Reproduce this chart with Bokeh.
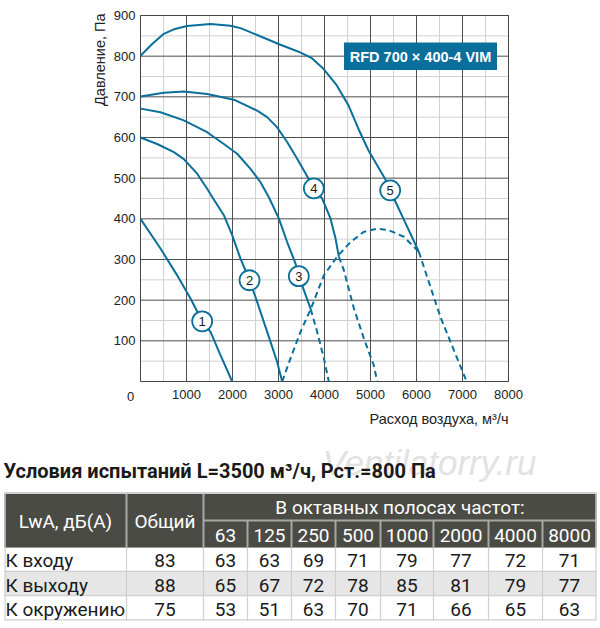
from bokeh.plotting import figure
from bokeh.models import Range1d, FixedTicker, ColumnDataSource, LinearAxis
from bokeh.embed import file_html
from bokeh.resources import INLINE
from bokeh.core.properties import value

# ---------------- chart data (flow m3/h, pressure Pa) ----------------
c1_x = [0, 435, 797, 1087, 1341, 1522, 1739, 1993]
c1_y = [400, 327, 261, 204, 148, 122, 65, 0]

c2_x = [0, 362, 725, 942, 1232, 1449, 1580, 1812, 1993, 2174, 2370, 2536, 2754, 2971, 3080]
c2_y = [600, 584, 564, 547, 511, 474, 450, 409, 360, 302, 249, 196, 122, 48, 0]

c3_x = [0, 435, 942, 1449, 1812, 2101, 2391, 2609, 2790, 3007, 3188, 3370, 3442, 3700]
c3_y = [671, 662, 642, 613, 584, 560, 523, 490, 453, 401, 343, 290, 259, 178]
c3d_x = [3700, 3841, 3986, 4094]
c3d_y = [178, 122, 57, 0]

c4_x = [0, 507, 942, 1449, 2029, 2536, 2754, 2971, 3188, 3406, 3623, 3768, 3949, 4130,
        4239, 4312]
c4_y = [701, 710, 713, 707, 693, 666, 650, 625, 589, 548, 505, 475, 450, 401, 352, 307]
c4d_x = [4312, 4420, 4638, 4855, 5072, 5145]
c4d_y = [307, 274, 180, 106, 40, 0]

c5_x = [0, 254, 507, 725, 1014, 1522, 1957, 2174, 2536, 3043, 3435, 3725, 3978, 4268,
        4522, 4739, 4957, 5319, 5428, 5543, 5725, 6051]
c5_y = [801, 830, 855, 866, 874, 879, 875, 869, 852, 828, 811, 795, 769, 728, 679, 621,
        568, 498, 470, 442, 398, 319]
c5d_x = [6051, 6522, 7090]
c5d_y = [319, 158, 0]

hump_x = [3080, 3261, 3478, 3700, 3986, 4275, 4565, 4855, 5145, 5399, 5725, 6051]
hump_y = [0, 57, 122, 178, 261, 307, 343, 368, 376, 372, 356, 319]

marker_x = [1341, 2370, 3442, 3768, 5428]
marker_y = [148, 249, 259, 475, 470]
marker_txt = ["1", "2", "3", "4", "5"]

x_ticks = [1000, 2000, 3000, 4000, 5000, 6000, 7000, 8000]
x_minor = [500, 1500, 2500, 3500, 4500, 5500, 6500, 7500]
y_ticks = [100, 200, 300, 400, 500, 600, 700, 800, 900]
y_minor = [50, 150, 250, 350, 450, 550, 650, 750, 850]
x_min, x_max = 0, 8000
y_min, y_max = 0, 900

model_name = "RFD 700 × 400-4 VIM"
x_title = "Расход воздуха, м³/ч"
y_title = "Давление, Па"

# ---------------- table data ----------------
test_title = "Условия испытаний L=3500 м³/ч, Рст.=800 Па"
watermark = "Ventilatorry.ru"
head_first = "LwA, дБ(А)"
head_total = "Общий"
head_bands = "В октавных полосах частот:"
bands = ["63", "125", "250", "500", "1000", "2000", "4000", "8000"]
row_names = ["К входу", "К выходу", "К окружению"]
total = [83, 88, 75]
inlet = [63, 63, 69, 71, 79, 77, 72, 71]
outlet = [65, 67, 72, 78, 85, 81, 79, 77]
surround = [53, 51, 63, 70, 71, 66, 65, 63]
rows_vals = [inlet, outlet, surround]

# ---------------- layout (canvas pixels) ----------------
W, H = 600, 626
FL, FR, FT, FB = 140, 508, 15, 381          # chart frame edges in canvas px
BLUE = "#0b6f9b"
FONT = "Liberation Sans"
TFONT = "Roboto"
INK = "#222222"

kx = (x_max - x_min) / (FR - FL)
ky = (y_max - y_min) / (FB - FT)
xr = Range1d(x_min - FL * kx, x_max + (W - FR) * kx)
yr = Range1d(y_min - (H - FB) * ky, y_max + FT * ky)

p = figure(width=W, height=H, x_range=xr, y_range=yr, output_backend="svg",
           toolbar_location=None, min_border=0, x_axis_type=None, y_axis_type=None,
           background_fill_color="white", border_fill_color="white")
p.grid.visible = False
p.outline_line_color = None
p.extra_x_ranges = {"px": Range1d(0, W)}
p.extra_y_ranges = {"py": Range1d(H, 0)}
PX = dict(x_range_name="px", y_range_name="py")

# grid
p.segment(x0=x_minor, y0=[y_min] * len(x_minor), x1=x_minor, y1=[y_max] * len(x_minor),
          line_color="#d2d2d2", line_width=1)
p.segment(x0=[x_min] * len(y_minor), y0=y_minor, x1=[x_max] * len(y_minor), y1=y_minor,
          line_color="#d2d2d2", line_width=1)
p.segment(x0=x_ticks, y0=[y_min] * len(x_ticks), x1=x_ticks, y1=[y_max] * len(x_ticks),
          line_color="#4d4d4d", line_width=1)
p.segment(x0=[x_min] * len(y_ticks), y0=y_ticks, x1=[x_max] * len(y_ticks), y1=y_ticks,
          line_color="#4d4d4d", line_width=1)
p.quad(left=[x_min], right=[x_max], bottom=[y_min], top=[y_max], fill_color=None,
       line_color="#444444", line_width=1)

# axes drawn at fixed locations inside the canvas
xt = FixedTicker(ticks=x_ticks, minor_ticks=[])
yt = FixedTicker(ticks=y_ticks, minor_ticks=[])
xax = LinearAxis(ticker=xt, fixed_location=y_min, bounds=(x_min, x_max))
yax = LinearAxis(ticker=yt, fixed_location=x_min, bounds=(y_min, y_max))
for ax in (xax, yax):
    ax.axis_line_color = None
    ax.major_tick_line_color = None
    ax.minor_tick_line_color = None
    ax.major_tick_out = 0
    ax.major_tick_in = 0
    ax.minor_tick_out = 0
    ax.major_label_text_font = FONT
    ax.major_label_text_font_size = "13px"
    ax.major_label_text_color = INK
xax.major_label_standoff = 8
yax.major_label_standoff = 5
p.add_layout(xax, "below")
p.add_layout(yax, "left")

# curves
for xs, ys in [(c1_x, c1_y), (c2_x, c2_y), (c3_x, c3_y), (c4_x, c4_y), (c5_x, c5_y)]:
    p.line(xs, ys, line_color=BLUE, line_width=2, line_join="round")
for xs, ys in [(c3d_x, c3d_y), (c4d_x, c4d_y), (c5d_x, c5d_y), (hump_x, hump_y)]:
    p.line(xs, ys, line_color=BLUE, line_width=2, line_dash="6 4", line_join="round")

msrc = ColumnDataSource(dict(x=marker_x, y=marker_y, t=marker_txt))
p.scatter("x", "y", source=msrc, size=20, marker="circle", fill_color="white",
          line_color=BLUE, line_width=1.8)
p.text("x", "y", text="t", source=msrc, text_align="center", text_baseline="middle",
       text_font=value(FONT), text_font_size="13px", text_color="#1a1a1a")

# badge and axis titles (canvas px)
p.quad(left=[343.5], right=[496.5], top=[42], bottom=[69.5], fill_color=BLUE,
       line_color=None, **PX)
p.text([420], [56.5], text=[model_name], text_align="center", text_baseline="middle",
       text_font=value(FONT), text_font_style="bold", text_font_size="14.5px",
       text_color="white", **PX)
p.text([FR], [418], text=[x_title], text_align="right", text_baseline="middle",
       text_font=value(FONT), text_font_size="14.5px", text_color=INK, **PX)
p.text([99], [13], text=[y_title], angle=1.5708, text_align="right", text_baseline="middle",
       text_font=value(FONT), text_font_size="14.5px", text_color=INK, **PX)
p.text([130], [396], text=["0"], text_align="center", text_baseline="middle",
       text_font=value(FONT), text_font_size="13px", text_color=INK, **PX)

# ================= table (canvas px) =================
col_edges = [4, 126, 203, 247, 291, 335, 380, 433, 488, 542, 596]
top, mid, hbot = 492.3, 520, 547.3
row_h = 24.2
row_tops = [hbot + i * row_h for i in range(len(row_names))]
tbl_bot = row_tops[-1] + row_h

p.text([322], [462], text=[watermark], text_font=value("Liberation Sans"),
       text_font_style="italic", text_font_size="35px", text_color="#e2e2e2",
       text_baseline="alphabetic", **PX)
p.text([3], [470.5], text=[test_title], text_font=value(TFONT), text_font_style="bold",
       text_font_size="20px", text_color="#1a1a1a", text_baseline="alphabetic", **PX)

HDR = "#4b4b46"
SEP = "#a8a8a3"
GRID = "#cfcfcf"
L, R = col_edges[0], col_edges[-1]
p.quad(left=[L], right=[R], top=[top], bottom=[hbot], fill_color=HDR, line_color=None, **PX)
row_fill = ["white", "#e6e6e6", "white"]
p.quad(left=[L] * 3, right=[R] * 3, top=row_tops,
       bottom=[rt + row_h for rt in row_tops], fill_color=row_fill, line_color=None, **PX)

t_sep = dict(line_color=SEP, line_width=2, **PX)
p.segment(x0=col_edges[1:3], y0=[top] * 2, x1=col_edges[1:3], y1=[hbot] * 2, **t_sep)
p.segment(x0=col_edges[3:-1], y0=[mid] * 7, x1=col_edges[3:-1], y1=[hbot] * 7, **t_sep)
p.segment(x0=[col_edges[2]], y0=[mid], x1=[R], y1=[mid], **t_sep)
p.segment(x0=[L + 0.6, R - 0.6, L], y0=[top, top, top + 0.6],
          x1=[L + 0.6, R - 0.6, R], y1=[hbot, hbot, top + 0.6],
          line_color=GRID, line_width=1.2, **PX)

hl = [rt + row_h - 0.6 for rt in row_tops]
p.segment(x0=[L] * 3, y0=hl, x1=[R] * 3, y1=hl, line_color=GRID, line_width=1.2, **PX)
vx = [L + 0.6] + col_edges[1:-1] + [R - 0.6]
p.segment(x0=vx, y0=[hbot] * len(vx), x1=vx, y1=[tbl_bot] * len(vx), line_color=GRID,
          line_width=1.2, **PX)


def cx(i):
    return (col_edges[i] + col_edges[i + 1]) / 2


hdr_txt = dict(text_align="center", text_baseline="middle", text_font=value(TFONT),
               text_font_size="19px", text_color="white", **PX)
p.text([cx(0), cx(1)], [(top + hbot) / 2 + 1] * 2, text=[head_first, head_total], **hdr_txt)
p.text([(col_edges[2] + R) / 2], [(top + mid) / 2 + 1], text=[head_bands], **hdr_txt)
p.text([cx(i) for i in range(2, 10)], [(mid + hbot) / 2 + 1] * 8, text=bands, **hdr_txt)

body_txt = dict(text_baseline="middle", text_font=value(TFONT), text_font_size="19px",
                text_color="#1a1a1a", **PX)
for r, name in enumerate(row_names):
    yc = row_tops[r] + row_h / 2 + 1
    p.text([L + 1], [yc], text=[name], text_align="left", **body_txt)
    vals = [str(total[r])] + [str(v) for v in rows_vals[r]]
    p.text([cx(i) for i in range(1, 10)], [yc] * 9, text=vals, text_align="center",
           **body_txt)

open("out.html", "w").write(file_html(p, INLINE))
